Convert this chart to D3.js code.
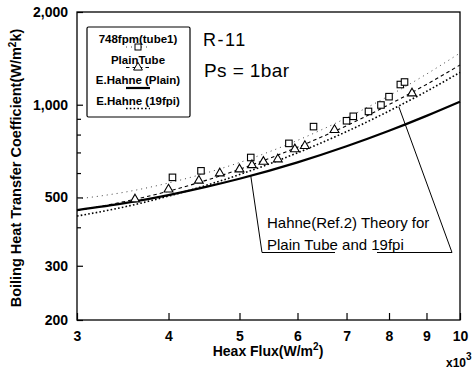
<!DOCTYPE html>
<html>
<head>
    <meta charset="utf-8" />
    <title>Boiling Heat Transfer Coefficient R-11</title>
    <style>
    	body { margin: 0; background: #fff; }
    	text { font-family: "Liberation Sans", Arial, Helvetica, sans-serif; }
    </style>
</head>
<body>
<script src="https://d3js.org/d3.v7.min.js"></script>
<script>

	// measured points, 748fpm (tube1) squares and plain tube triangles
	var squareFlux = [4.05, 4.43, 5.18, 5.84, 6.31, 7.0, 7.15, 7.5, 7.8, 8.0, 8.29, 8.4];
	var squareH    = [581, 610, 674, 749, 849, 887, 917, 951, 998, 1062, 1163, 1185];
	var triFlux    = [3.6, 4.0, 4.4, 4.7, 5.0, 5.2, 5.39, 5.64, 5.95, 6.14, 6.74, 8.6];
	var triH       = [493, 531, 567, 599, 617, 637, 653, 665, 717, 735, 828, 1089];

	// curves (read at these flux values)
	var curveFlux  = [3, 3.5, 4, 4.5, 5, 6, 7, 8, 9, 10];
	var fit748     = [494, 521, 557, 600, 649, 766, 906, 1069, 1257, 1472];
	var fitPlain   = [453, 486, 524, 568, 617, 728, 855, 1001, 1164, 1346];
	var hahnePlain = [455, 480, 509, 541, 575, 650, 733, 823, 920, 1023];
	var hahne19    = [435, 467, 505, 547, 593, 698, 818, 954, 1105, 1273];

	var xTicks = [3, 4, 5, 6, 7, 8, 9, 10];
	var yTicks = [200, 300, 500, 1000, 2000];
	var yTickLabels = ["200", "300", "500", "1,000", "2,000"];
	var yMinor = [400, 600, 700, 800, 900];

	// where the Hahne note points to: [flux, h]
	var notePlain = [5.18, 588];
	var note19 = [8.25, 985];

	var width = 472;
	var height = 372;
	var margin = {"left":77, "right":12, "top":12, "bottom":52};

	var svg = d3.select("body").append("svg")
				.attr("width", width)
				.attr("height", height);

	var x = d3.scaleLog()
			  .domain([3, 10])
			  .range([margin.left, width - margin.right]);

	var y = d3.scaleLog()
			  .domain([200, 2000])
			  .range([height - margin.bottom, margin.top]);

	var x0 = x.range()[0], x1 = x.range()[1];
	var y0 = y.range()[0], y1 = y.range()[1];

	// frame
	svg.append("rect")
	   .attr("x", x0).attr("y", y1)
	   .attr("width", x1 - x0).attr("height", y0 - y1)
	   .attr("fill", "none")
	   .attr("stroke", "#000")
	   .attr("stroke-width", 1.3);

	// axes
	var xAxis = d3.axisBottom(x)
				  .tickValues(xTicks)
				  .tickFormat(d3.format("d"))
				  .tickSize(-7)
				  .tickSizeOuter(0)
				  .tickPadding(11);

	var gx = svg.append("g")
				.attr("transform", "translate(0," + y0 + ")")
				.call(xAxis);

	var yAxis = d3.axisLeft(y)
				  .tickValues(yTicks)
				  .tickFormat((d, i) => yTickLabels[i])
				  .tickSize(-6)
				  .tickSizeOuter(0)
				  .tickPadding(9);

	var gy = svg.append("g")
				.attr("transform", "translate(" + x0 + ",0)")
				.call(yAxis);

	var gyMinor = svg.append("g")
					 .attr("transform", "translate(" + x0 + ",0)")
					 .call(d3.axisLeft(y).tickValues(yMinor).tickFormat("").tickSize(-4).tickSizeOuter(0));

	[gx, gy, gyMinor].forEach(function(g){
		g.select(".domain").remove();
		g.selectAll("line").attr("stroke", "#000").attr("stroke-width", 1.2);
		g.selectAll("text")
		 .attr("fill", "#000")
		 .style("font-size", "14px")
		 .style("font-weight", "bold")
		 .style("font-family", "'Liberation Sans', Arial, sans-serif");
	});

	// axis titles
	svg.append("text")
	   .attr("transform", "translate(21,168) rotate(-90)")
	   .style("text-anchor", "middle")
	   .style("font-size", "14.5px")
	   .style("font-weight", "bold")
	   .html("Boiling Heat Transfer Coefficient(W/m<tspan dy='-5' font-size='10px'>2</tspan><tspan dy='5'>k)</tspan>");

	svg.append("text")
	   .attr("x", 268)
	   .attr("y", 356)
	   .style("text-anchor", "middle")
	   .style("font-size", "14px")
	   .style("font-weight", "bold")
	   .html("Heax Flux(W/m<tspan dy='-6' font-size='10px'>2</tspan><tspan dy='6'>)</tspan>");

	svg.append("text")
	   .attr("x", 446)
	   .attr("y", 367)
	   .style("font-size", "12px")
	   .style("font-weight", "bold")
	   .html("x10<tspan dy='-7' font-size='10px'>3</tspan>");

	// curves
	var line = d3.line()
				 .x(d => x(d[0]))
				 .y(d => y(d[1]))
				 .curve(d3.curveMonotoneX);

	function drawCurve(values, style){
		svg.append("path")
		   .datum(curveFlux.map((f, i) => [f, values[i]]))
		   .attr("d", line)
		   .attr("fill", "none")
		   .attr("stroke", style.color)
		   .attr("stroke-width", style.width)
		   .attr("stroke-dasharray", style.dash);
	}

	var styles = {
		fit748:     {"color":"#444", "width":1,   "dash":"1,4"},
		fitPlain:   {"color":"#000", "width":1.1, "dash":"3.5,3"},
		hahnePlain: {"color":"#000", "width":2.2, "dash":null},
		hahne19:    {"color":"#000", "width":1.6, "dash":"1.6,2.2"}
	};

	drawCurve(fit748, styles.fit748);
	drawCurve(fitPlain, styles.fitPlain);
	drawCurve(hahnePlain, styles.hahnePlain);
	drawCurve(hahne19, styles.hahne19);

	// markers
	var sq = 6.5;
	svg.append("g").selectAll("rect")
	   .data(squareFlux.map((f, i) => [f, squareH[i]]))
	   .enter()
	   .append("rect")
	   .attr("x", d => x(d[0]) - sq / 2)
	   .attr("y", d => y(d[1]) - sq / 2)
	   .attr("width", sq)
	   .attr("height", sq)
	   .attr("fill", "#fff")
	   .attr("stroke", "#000")
	   .attr("stroke-width", 1.1);

	var tri = d3.symbol().type(d3.symbolTriangle).size(34);
	svg.append("g").selectAll("path")
	   .data(triFlux.map((f, i) => [f, triH[i]]))
	   .enter()
	   .append("path")
	   .attr("d", tri)
	   .attr("transform", d => "translate(" + x(d[0]) + "," + y(d[1]) + ")")
	   .attr("fill", "#fff")
	   .attr("stroke", "#000")
	   .attr("stroke-width", 1.1);

	// legend
	var legend = svg.append("g");
	legend.append("rect")
		  .attr("x", 87).attr("y", 27)
		  .attr("width", 103).attr("height", 90)
		  .attr("rx", 1.5)
		  .attr("fill", "#fff")
		  .attr("stroke", "#000")
		  .attr("stroke-width", 1.2);

	var legendItems = [
		{"label":"748fpm(tube1)",   "style":styles.fit748,     "marker":"square",   "size":"11.5px"},
		{"label":"PlainTube",       "style":styles.fitPlain,   "marker":"triangle", "size":"11.5px"},
		{"label":"E.Hahne (Plain)", "style":styles.hahnePlain, "marker":null,       "size":"11.5px"},
		{"label":"E.Hahne (19fpi)", "style":styles.hahne19,    "marker":null,       "size":"11.5px"}
	];

	legendItems.forEach(function(item, i){
		var ty = 43 + i * 20.5;
		legend.append("text")
			  .attr("x", 138)
			  .attr("y", ty)
			  .style("text-anchor", "middle")
			  .style("font-size", item.size)
			  .style("font-weight", "bold")
			  .text(item.label);
		legend.append("line")
			  .attr("x1", 126).attr("x2", 150)
			  .attr("y1", ty + 4).attr("y2", ty + 4)
			  .attr("stroke", item.style.color)
			  .attr("stroke-width", item.style.width)
			  .attr("stroke-dasharray", item.style.dash);
		if (item.marker == "square") {
			legend.append("rect")
				  .attr("x", 138 - 3).attr("y", ty + 1)
				  .attr("width", 6).attr("height", 6)
				  .attr("fill", "#fff").attr("stroke", "#000");
		} else if (item.marker == "triangle") {
			legend.append("path")
				  .attr("d", tri)
				  .attr("transform", "translate(138," + (ty + 4) + ")")
				  .attr("fill", "#fff").attr("stroke", "#000");
		}
	});

	// labels
	svg.append("text")
	   .attr("x", 203).attr("y", 46)
	   .style("font-size", "18px")
	   .style("letter-spacing", "1.5px")
	   .text("R-11");

	svg.append("text")
	   .attr("x", 204).attr("y", 77)
	   .style("font-size", "19px")
	   .style("letter-spacing", "0.4px")
	   .text("Ps = 1bar");

	// Hahne note
	svg.append("text")
	   .attr("x", 267).attr("y", 228)
	   .style("font-size", "15px")
	   .text("Hahne(Ref.2) Theory for");

	svg.append("text")
	   .attr("x", 267).attr("y", 250)
	   .style("font-size", "15px")
	   .text("Plain Tube and 19fpi");

	var ul = 252.5;
	svg.append("path")
	   .attr("d", "M" + x(notePlain[0]) + "," + y(notePlain[1]) + "L262," + ul + "L335," + ul)
	   .attr("fill", "none")
	   .attr("stroke", "#000")
	   .attr("stroke-width", 1);

	svg.append("path")
	   .attr("d", "M" + x(note19[0]) + "," + y(note19[1]) + "L452," + ul + "L377," + ul)
	   .attr("fill", "none")
	   .attr("stroke", "#000")
	   .attr("stroke-width", 1);

</script>

</body>
</html>
